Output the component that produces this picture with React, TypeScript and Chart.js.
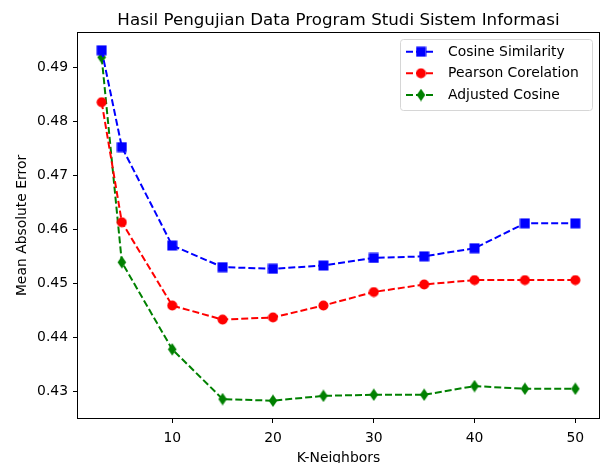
import React, { useEffect, useRef } from "react";
import { Chart, registerables } from "chart.js";

Chart.register(...registerables);

const kNeighbors = [3, 5, 10, 15, 20, 25, 30, 35, 40, 45, 50];
const cosineSimilarity = [0.4931, 0.4752, 0.457, 0.453, 0.4527, 0.4533, 0.4547, 0.455, 0.4565, 0.4611, 0.4611];
const pearsonCorelation = [0.4835, 0.4613, 0.4459, 0.4433, 0.4437, 0.4459, 0.4484, 0.4498, 0.4506, 0.4506, 0.4506];
const adjustedCosine = [0.4918, 0.4539, 0.4378, 0.4286, 0.4283, 0.4292, 0.4294, 0.4294, 0.431, 0.4305, 0.4305];
const seriesLabels = ["Cosine Similarity", "Pearson Corelation", "Adjusted Cosine"];
const xTickValues = [10, 20, 30, 40, 50];
const yTickValues = [0.43, 0.44, 0.45, 0.46, 0.47, 0.48, 0.49];
const titleText = "Hasil Pengujian Data Program Studi Sistem Informasi";
const xTitle = "K-Neighbors";
const yTitle = "Mean Absolute Error";

const FONT = "'DejaVu Sans', sans-serif";

function makeMarker(kind: string, color: string): HTMLCanvasElement {
  const c = document.createElement("canvas");
  const w = kind === "diamond" ? 10 : 11;
  const h = kind === "diamond" ? 13 : 11;
  c.width = w;
  c.height = h;
  const ctx = c.getContext("2d")!;
  ctx.fillStyle = color;
  ctx.beginPath();
  if (kind === "square") {
    ctx.rect(0.5, 0.5, 10, 10);
  } else if (kind === "circle") {
    ctx.arc(5.5, 5.5, 5, 0, Math.PI * 2);
  } else {
    ctx.moveTo(5, 0.3);
    ctx.lineTo(9.3, 6.5);
    ctx.lineTo(5, 12.7);
    ctx.lineTo(0.7, 6.5);
    ctx.closePath();
  }
  ctx.fill();
  return c;
}

export default function App() {
  const ref = useRef<HTMLCanvasElement | null>(null);

  useEffect(() => {
    const canvas = ref.current!;
    const colors = ["#0000ff", "#ff0000", "#008000"];
    const markers = [
      makeMarker("square", colors[0]),
      makeMarker("circle", colors[1]),
      makeMarker("diamond", colors[2]),
    ];
    const values = [cosineSimilarity, pearsonCorelation, adjustedCosine];

    const textPlugin = {
      id: "mplText",
      afterDraw(chart: any) {
        const ctx = chart.ctx as CanvasRenderingContext2D;
        const a = chart.chartArea;
        ctx.save();
        // frame
        const L = Math.round(a.left), R = Math.round(a.right), T = Math.round(a.top), B = Math.round(a.bottom);
        ctx.fillStyle = "#000";
        ctx.fillRect(L - 1, T - 1, R - L + 2, 1);
        ctx.fillRect(L - 1, B, R - L + 2, 1);
        ctx.fillRect(L - 1, T - 1, 1, B - T + 2);
        ctx.fillRect(R, T - 1, 1, B - T + 2);
        // title
        ctx.fillStyle = "#000";
        ctx.textAlign = "center";
        ctx.textBaseline = "alphabetic";
        ctx.font = `16.7px ${FONT}`;
        ctx.fillText(titleText, (a.left + a.right) / 2, 25);
        // x title
        ctx.font = `13.9px ${FONT}`;
        ctx.fillText(xTitle, (a.left + a.right) / 2, 462);
        // y title
        ctx.save();
        ctx.translate(26, (a.top + a.bottom) / 2);
        ctx.rotate(-Math.PI / 2);
        ctx.fillText(yTitle, 0, 0);
        ctx.restore();
        // legend
        const bx = 400.5, by = 39.5, bw = 192, bh = 71, r = 3;
        ctx.beginPath();
        ctx.moveTo(bx + r, by);
        ctx.lineTo(bx + bw - r, by);
        ctx.arcTo(bx + bw, by, bx + bw, by + r, r);
        ctx.lineTo(bx + bw, by + bh - r);
        ctx.arcTo(bx + bw, by + bh, bx + bw - r, by + bh, r);
        ctx.lineTo(bx + r, by + bh);
        ctx.arcTo(bx, by + bh, bx, by + bh - r, r);
        ctx.lineTo(bx, by + r);
        ctx.arcTo(bx, by, bx + r, by, r);
        ctx.closePath();
        ctx.fillStyle = "rgba(255,255,255,0.8)";
        ctx.fill();
        ctx.strokeStyle = "#d6d6d6";
        ctx.lineWidth = 1;
        ctx.stroke();
        const rows = [51.7, 73.3, 95];
        for (let i = 0; i < 3; i++) {
          const y = rows[i];
          ctx.strokeStyle = colors[i];
          ctx.lineWidth = 2;
          ctx.setLineDash([7, 3]);
          ctx.beginPath();
          ctx.moveTo(406, y);
          ctx.lineTo(436, y);
          ctx.stroke();
          ctx.setLineDash([]);
          const m = markers[i];
          ctx.drawImage(m, 421 - m.width / 2, y - m.height / 2);
          ctx.fillStyle = "#000";
          ctx.textAlign = "left";
          ctx.textBaseline = "middle";
          ctx.font = `13.9px ${FONT}`;
          ctx.fillText(seriesLabels[i], 448, y + 0.5);
        }
        ctx.restore();
      },
    };

    const chart = new Chart(canvas, {
      type: "line",
      data: {
        datasets: values.map((vals, i) => ({
          label: seriesLabels[i],
          data: kNeighbors.map((k, j) => ({ x: k, y: vals[j] })),
          borderColor: colors[i],
          backgroundColor: colors[i],
          borderWidth: 2,
          borderDash: [7, 3],
          pointStyle: markers[i] as any,
          pointRadius: 6,
          pointHoverRadius: 6,
          fill: false,
          tension: 0,
        })),
      },
      options: {
        responsive: false,
        animation: false,
        events: [],
        layout: { autoPadding: false, padding: { top: 33, right: 2, left: 0, bottom: 0 } },
        plugins: {
          legend: { display: false },
          title: { display: false },
          tooltip: { enabled: false },
        },
        scales: {
          x: {
            type: "linear",
            min: 0.65,
            max: 52.35,
            afterFit(scale: any) {
              scale.height = 45;
              scale.paddingLeft = 0;
              scale.paddingRight = 0;
            },
            afterBuildTicks(scale: any) {
              scale.ticks = xTickValues.map((v) => ({ value: v }));
            },
            border: { display: false },
            grid: {
              drawOnChartArea: false,
              drawTicks: true,
              tickLength: 5,
              color: "#000",
              tickWidth: 1,
            },
            ticks: {
              color: "#000",
              font: { family: FONT, size: 13.9 },
              padding: 7,
              maxRotation: 0,
              autoSkip: false,
            },
          },
          y: {
            type: "linear",
            min: 0.4251,
            max: 0.4963,
            afterFit(scale: any) {
              scale.width = 78;
              scale.paddingTop = 0;
              scale.paddingBottom = 0;
            },
            afterBuildTicks(scale: any) {
              scale.ticks = yTickValues.map((v) => ({ value: v }));
            },
            border: { display: false },
            grid: {
              drawOnChartArea: false,
              drawTicks: true,
              tickLength: 5,
              color: "#000",
              tickWidth: 1,
            },
            ticks: {
              color: "#000",
              font: { family: FONT, size: 13.9 },
              padding: 5,
              autoSkip: false,
              callback: (v: any) => Number(v).toFixed(2),
            },
          },
        },
      },
      plugins: [textPlugin],
    });
    return () => chart.destroy();
  }, []);

  return (
    <div style={{ position: "absolute", left: 0, top: 0, width: 601, height: 463, background: "#fff" }}>
      <canvas ref={ref} width={601} height={463} style={{ display: "block" }} />
    </div>
  );
}
